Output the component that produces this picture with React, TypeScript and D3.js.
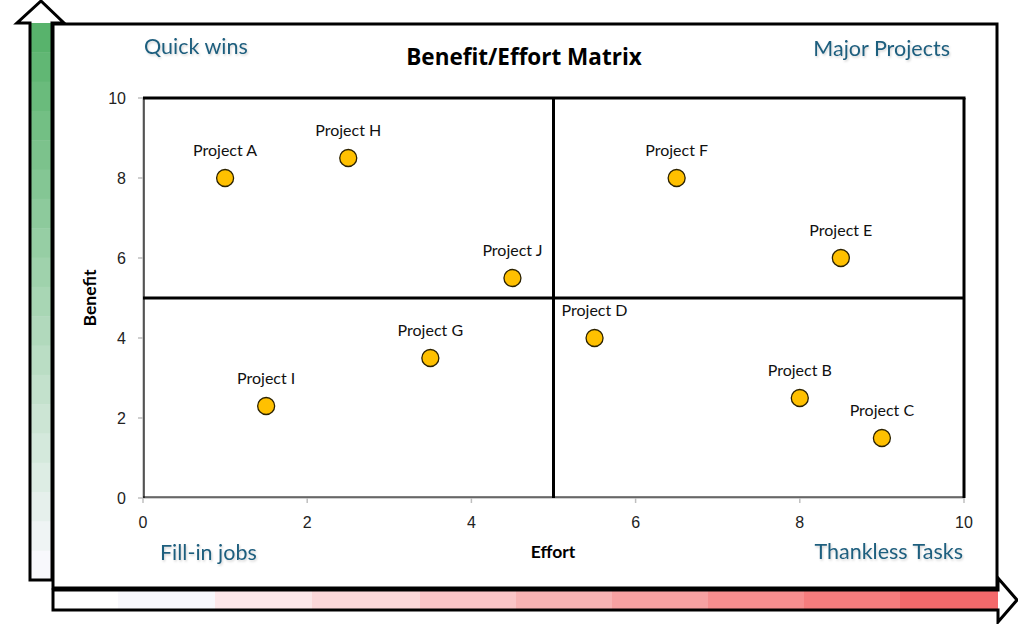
import React from "react";
import * as d3 from "d3";

const projects = ["Project A", "Project B", "Project C", "Project D", "Project E", "Project F", "Project G", "Project H", "Project I", "Project J"];
const effort = [1, 8, 9, 5.5, 8.5, 6.5, 3.5, 2.5, 1.5, 4.5];
const benefit = [8, 2.5, 1.5, 4, 6, 8, 3.5, 8.5, 2.3, 5.5];
const ticks = [0, 2, 4, 6, 8, 10];
const quadrantLabels = ["Quick wins", "Major Projects", "Fill-in jobs", "Thankless Tasks"];
const redBands = ["#FFFFFF", "#F8F8FC", "#FCE7E9", "#FBD7D9", "#FAC5C7", "#F8B3B4", "#F7A1A2", "#F68E8F", "#F57C7D", "#F3696B"];

const W = 1018, H = 624;

export default function App() {
  const x = d3.scaleLinear().domain([0, 10]).range([143, 964]);
  const y = d3.scaleLinear().domain([0, 10]).range([498, 98]);

  // vertical arrow geometry
  const vTop = 23, vBot = 580, vL = 30, vR = 52;
  const nG = 19;
  const greenInterp = d3.interpolateRgb("#58B36C", "#F8F8FC");
  const greenBands = d3.range(nG).map((i) => greenInterp(i / (nG - 1)));
  const bandH = (vBot - vTop) / nG;

  // horizontal arrow geometry
  const hTop = 590, hBot = 610, hL = 53, hR = 998;
  const bandEdges = [hL, 118, 215, 312, 420, 516, 612, 708, 804, 900, hR];

  const vArrow = `M${vL},${vBot} L${vL},${vTop} L17,${vTop} L41,1 L64,${vTop} L${vR},${vTop} L${vR},${vBot} Z`;
  const hArrow = `M${hL},${hTop} L${hR},${hTop} L${hR},578 L1017,600 L${hR},622 L${hR},${hBot} L${hL},${hBot} Z`;

  const font = "Lato, 'Open Sans', sans-serif";
  const tickFont = "'Liberation Sans', Arial, sans-serif";
  const qColor = "#1F5E7E";

  return (
    <svg width={W} height={H} style={{ position: "absolute", left: 0, top: 0 }}>
      <defs>
        <clipPath id="vclip"><path d={vArrow} /></clipPath>
        <clipPath id="hclip"><path d={hArrow} /></clipPath>
        <filter id="shadow" x="-10%" y="-30%" width="120%" height="160%">
          <feDropShadow dx="1" dy="1.5" stdDeviation="1" floodColor="#000" floodOpacity="0.18" />
        </filter>
      </defs>
      <rect x={0} y={0} width={W} height={H} fill="#fff" />
      {/* vertical green arrow */}
      <g clipPath="url(#vclip)">
        <rect x={0} y={0} width={80} height={vTop} fill="#FFFFFF" />
        {greenBands.map((c, i) => (
          <rect key={i} x={vL} y={vTop + i * bandH} width={vR - vL} height={bandH + 0.5} fill={c} />
        ))}
      </g>
      <path d={vArrow} fill="none" stroke="#000" strokeWidth={3} />
      {/* horizontal red arrow */}
      <g clipPath="url(#hclip)">
        {redBands.map((c, i) => (
          <rect key={i} x={bandEdges[i]} y={hTop} width={bandEdges[i + 1] - bandEdges[i] + 0.5} height={hBot - hTop} fill={c} />
        ))}
        <rect x={hR} y={570} width={25} height={60} fill="#FFFFFF" />
      </g>
      <path d={hArrow} fill="none" stroke="#000" strokeWidth={3} />
      {/* main box */}
      <rect x={53} y={24} width={944} height={564} fill="#fff" stroke="#000" strokeWidth={3} />

      {/* title */}
      <text x={524} y={65} textAnchor="middle" fontFamily="'Open Sans', sans-serif" fontWeight="bold" fontSize={22.5} fill="#000">Benefit/Effort Matrix</text>

      {/* quadrant labels */}
      <g fontFamily={font} fontSize={21.5} fill={qColor} filter="url(#shadow)">
        <text x={144} y={54}>{quadrantLabels[0]}</text>
        <text x={950} y={56} textAnchor="end">{quadrantLabels[1]}</text>
        <text x={160} y={560}>{quadrantLabels[2]}</text>
        <text x={963} y={559} textAnchor="end">{quadrantLabels[3]}</text>
      </g>

      {/* axes ticks */}
      <g stroke="#BFBFBF" strokeWidth={1.5}>
        {ticks.map((t) => (
          <line key={"yt" + t} x1={x(0) - 5} x2={x(0)} y1={y(t)} y2={y(t)} />
        ))}
        {ticks.map((t) => (
          <line key={"xt" + t} x1={x(t)} x2={x(t)} y1={y(0)} y2={y(0) + 5} />
        ))}
        <line x1={x(0)} x2={x(0)} y1={y(10)} y2={y(0)} />
        <line x1={x(0)} x2={x(10)} y1={y(0)} y2={y(0)} />
      </g>
      {/* plot border */}
      <line x1={x(0) + 1} x2={x(0) + 1} y1={y(10)} y2={y(0)} stroke="#000" strokeWidth={1.2} />
      <line x1={x(0)} x2={x(10)} y1={y(0) - 1} y2={y(0) - 1} stroke="#000" strokeWidth={1.2} />
      <line x1={x(0)} x2={x(10) + 1.5} y1={y(10)} y2={y(10)} stroke="#000" strokeWidth={3} />
      <line x1={x(10)} x2={x(10)} y1={y(10)} y2={y(0)} stroke="#000" strokeWidth={3} />
      {/* quadrant lines */}
      <line x1={x(5)} x2={x(5)} y1={y(10)} y2={y(0)} stroke="#000" strokeWidth={3} />
      <line x1={x(0)} x2={x(10)} y1={y(5)} y2={y(5)} stroke="#000" strokeWidth={3} />

      {/* tick labels */}
      <g fontFamily={tickFont} fontSize={16} fill="#222">
        {ticks.map((t) => (
          <text key={"yl" + t} x={126} y={y(t) + 5.5} textAnchor="end">{t}</text>
        ))}
        {ticks.map((t) => (
          <text key={"xl" + t} x={x(t)} y={528} textAnchor="middle">{t}</text>
        ))}
      </g>

      {/* axis titles */}
      <text x={553} y={558} textAnchor="middle" fontFamily={font} fontWeight="bold" fontSize={17.5} fill="#000">Effort</text>
      <text transform={`translate(96,${y(5)}) rotate(-90)`} textAnchor="middle" fontFamily={font} fontWeight="bold" fontSize={17.5} fill="#000">Benefit</text>

      {/* points */}
      {projects.map((p, i) => (
        <g key={p}>
          <circle cx={x(effort[i])} cy={y(benefit[i])} r={8.5} fill="#FFC000" stroke="#2B2100" strokeWidth={1.3} />
          <text x={x(effort[i])} y={y(benefit[i]) - 22} textAnchor="middle" fontFamily={font} fontSize={16} fill="#111">{p}</text>
        </g>
      ))}
    </svg>
  );
}
